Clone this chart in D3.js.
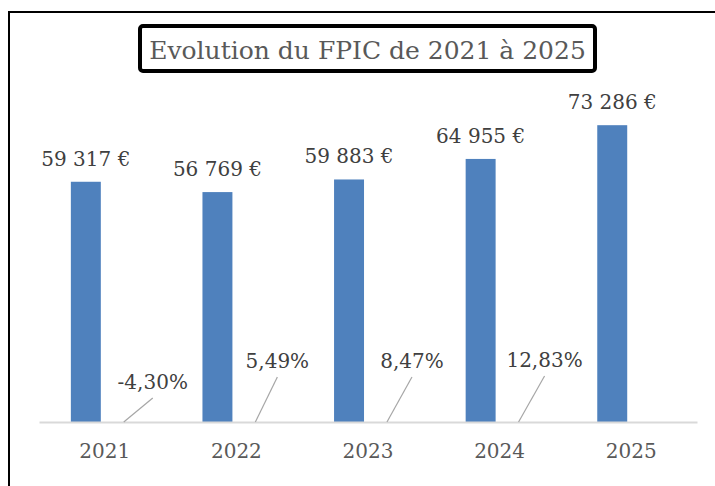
<!DOCTYPE html>
<html>
<head>
<meta charset="utf-8">
<script src="https://cdn.jsdelivr.net/npm/d3@7"></script>
<style>
  body { margin: 0; background: #fff; }
  text { font-family: "DejaVu Serif", serif; }
</style>
</head>
<body>
<div id="chart"></div>
<script>
// data
const years = ['2021', '2022', '2023', '2024', '2025'];
const amounts = [59317, 56769, 59883, 64955, 73286];
const rates = [-4.30, 5.49, 8.47, 12.83]; // change to the following year, in %
const yTicks = [0, 80000];

const width = 715, height = 486;
const margin = {top: 98, right: 18, bottom: 64, left: 39};

// where Excel's dragged rate labels ended up, relative to the leader start
const rateLabelPos = [
  {dx: 29, dy: -24},
  {dx: 22, dy: -45},
  {dx: 25, dy: -45},
  {dx: 26, dy: -46}
];

const fr = d3.formatLocale({
  decimal: ',', thousands: '\u00a0', grouping: [3],
  currency: ['', '\u00a0€'], minus: '-'
});
const fmtAmount = fr.format('$,.0f');
const fmtRate = fr.format('.2f');

let svg = d3.select('#chart')
  .append('svg')
  .attr('width', width)
  .attr('height', height);

// outer frame (right and bottom edges fall outside the crop)
svg.append('rect')
  .attr('x', 9).attr('y', 12)
  .attr('width', 720).attr('height', 500)
  .attr('fill', 'none')
  .attr('stroke', '#000')
  .attr('stroke-width', 2);

let x = d3.scaleBand()
  .domain(years)
  .range([margin.left, width - margin.right]);

let series = d3.scaleBand()
  .domain(['amount', 'rate'])
  .range([0, x.bandwidth()])
  .paddingInner(0.21)
  .paddingOuter(0.84);

let y = d3.scaleLinear()
  .domain(d3.extent(yTicks))
  .range([height - margin.bottom, margin.top]);

let data = years.map((yr, i) => ({year: yr, amount: amounts[i], rate: rates[i]}));

// bars
svg.append('g')
  .selectAll('rect')
  .data(data)
  .enter()
  .append('rect')
  .attr('x', d => x(d.year) + series('amount'))
  .attr('y', d => y(d.amount))
  .attr('width', series.bandwidth())
  .attr('height', d => y(0) - y(d.amount))
  .attr('fill', '#4f81bd');

// category axis
let xAxis = svg.append('g')
  .attr('transform', `translate(0, ${y(0)})`)
  .call(d3.axisBottom(x).tickSize(0).tickPadding(0));

xAxis.select('.domain')
  .attr('stroke', '#d9d9d9')
  .attr('stroke-width', 2);

xAxis.selectAll('text')
  .attr('dy', null)
  .attr('y', 36)
  .attr('fill', '#595959')
  .style('font-size', '20px')
  .style('font-family', '"DejaVu Serif", serif');

// amount labels
svg.append('g')
  .selectAll('text')
  .data(data)
  .enter()
  .append('text')
  .attr('x', d => x(d.year) + series('amount') + series.bandwidth() / 2)
  .attr('y', d => y(d.amount) - 16)
  .attr('text-anchor', 'middle')
  .attr('fill', '#404040')
  .style('font-size', '20px')
  .text(d => fmtAmount(d.amount));

// rate labels with leader lines
let rateData = data.filter(d => d.rate !== undefined);

let leaders = svg.append('g');
leaders.selectAll('line')
  .data(rateData)
  .enter()
  .append('line')
  .attr('x1', d => x(d.year) + series('rate') + series.bandwidth() / 2)
  .attr('y1', y(0))
  .attr('x2', (d, i) => x(d.year) + series('rate') + series.bandwidth() / 2 + rateLabelPos[i].dx)
  .attr('y2', (d, i) => y(0) + rateLabelPos[i].dy)
  .attr('stroke', '#a6a6a6')
  .attr('stroke-width', 1.2);

leaders.selectAll('text')
  .data(rateData)
  .enter()
  .append('text')
  .attr('x', (d, i) => x(d.year) + series('rate') + series.bandwidth() / 2 + rateLabelPos[i].dx)
  .attr('y', (d, i) => y(0) + rateLabelPos[i].dy - 9)
  .attr('text-anchor', 'middle')
  .attr('fill', '#404040')
  .style('font-size', '20px')
  .text(d => fmtRate(d.rate) + '%');

// title in its heavy box
svg.append('rect')
  .attr('x', 140).attr('y', 26)
  .attr('width', 455).attr('height', 45)
  .attr('rx', 3)
  .attr('fill', '#fff')
  .attr('stroke', '#000')
  .attr('stroke-width', 4);

svg.append('text')
  .attr('x', 367.5)
  .attr('y', 59)
  .attr('text-anchor', 'middle')
  .attr('fill', '#595959')
  .style('font-size', '25px')
  .text('Evolution du FPIC de 2021 à 2025');
</script>
</body>
</html>
